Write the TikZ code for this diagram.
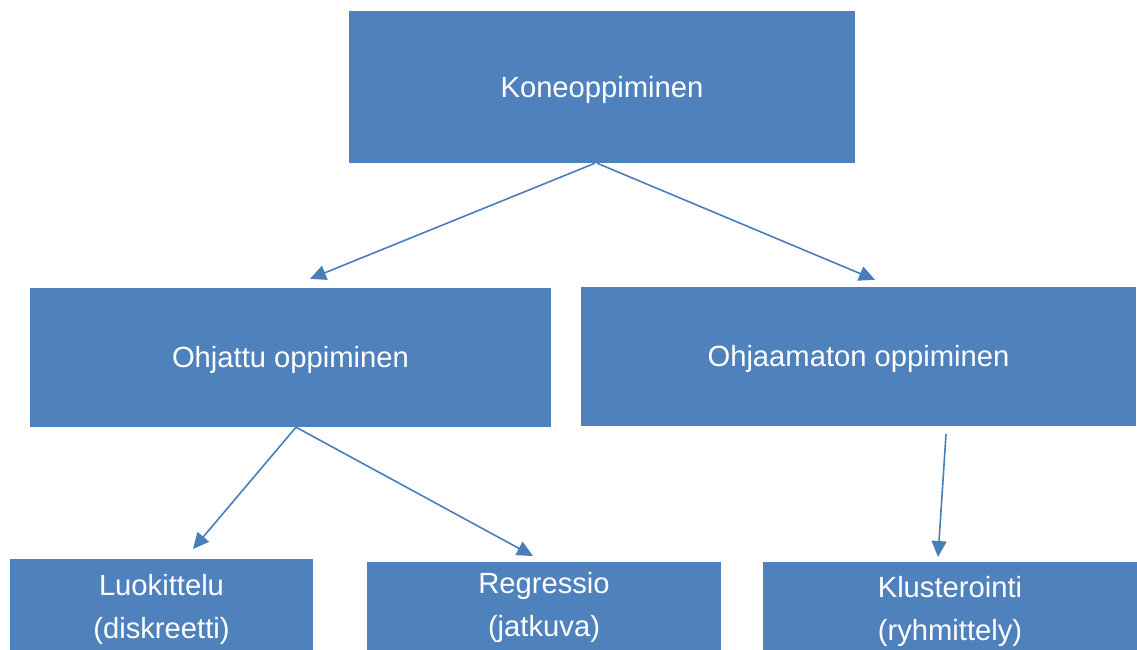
\documentclass[tikz,border=0pt]{standalone}
\usepackage{fontspec}
\setmainfont{Liberation Sans}
\usetikzlibrary{arrows.meta}
\definecolor{boxblue}{HTML}{4F81BD}
\definecolor{lineblue}{HTML}{4A7EBB}
\tikzset{
  box/.style={fill=boxblue, draw=none, inner sep=0pt},
  lbl/.style={text=white, font=\fontsize{29.2}{34}\selectfont, anchor=base, inner sep=0pt},
  conn/.style={draw=lineblue, line width=1.6pt, -{Triangle[length=16pt,width=15pt]}}
}
\begin{document}
\begin{tikzpicture}[x=1pt,y=-1pt]
\clip (0,0) rectangle (1137,649);
\fill[white] (0,0) rectangle (1137,649);
% boxes
\node[box, minimum width=506pt, minimum height=152pt] (kone) at (602,87) {};
\node[box, minimum width=521pt, minimum height=139pt] (ohj) at (290.5,357.5) {};
\node[box, minimum width=555pt, minimum height=139pt] (ohm) at (858.5,356.5) {};
\node[box, minimum width=303pt, minimum height=140pt, anchor=north] (luok) at (161.5,559) {};
\node[box, minimum width=354pt, minimum height=140pt, anchor=north] (regr) at (544,562) {};
\node[box, minimum width=374pt, minimum height=140pt, anchor=north] (klus) at (950,562) {};
% labels
\node[lbl] (tkone) at (602,97.5) {Koneoppiminen};
\node[lbl] (tohj) at (290.5,367.5) {Ohjattu oppiminen};
\node[lbl] (tohm) at (858.5,366.5) {Ohjaamaton oppiminen};
\node[lbl] (tluok1) at (161.5,595.5) {Luokittelu};
\node[lbl] (tluok2) at (161.5,638.5) {(diskreetti)};
\node[lbl] (tregr1) at (544,593) {Regressio};
\node[lbl] (tregr2) at (544,636) {(jatkuva)};
\node[lbl] (tklus1) at (950,597) {Klusterointi};
\node[lbl] (tklus2) at (950,640) {(ryhmittely)};
% connectors
\draw[conn] ([xshift=-7pt]kone.south) -- ([xshift=19.5pt,yshift=9pt]ohj.north);
\draw[conn] ([xshift=-5pt]kone.south) -- ([xshift=16.5pt,yshift=7pt]ohm.north);
\draw[conn] ([xshift=5.5pt]ohj.south) -- ([xshift=31.5pt,yshift=10pt]luok.north);
\draw[conn] ([xshift=5.5pt]ohj.south) -- ([xshift=-11pt,yshift=6pt]regr.north);
\draw[conn] ([xshift=87.5pt,yshift=-8pt]ohm.south) -- ([xshift=-12pt,yshift=5pt]klus.north);
\end{tikzpicture}
\end{document}
